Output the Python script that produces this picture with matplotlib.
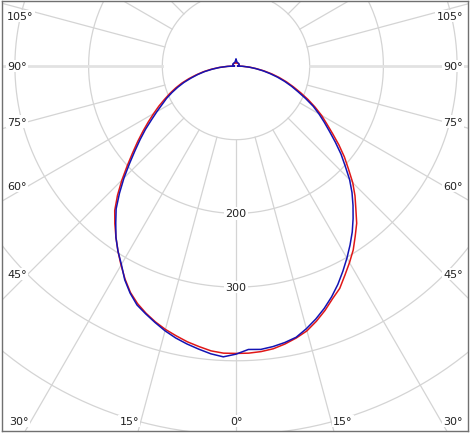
import numpy as np
import matplotlib
matplotlib.use("Agg")
import matplotlib.pyplot as plt

# gamma angles (deg, 0 = straight down), same grid for all four half-planes
gamma = [0, 2.5, 5, 7.5, 10, 12.5, 15, 17.5, 20, 22.5, 25, 27.5, 30, 32.5, 35, 37.5, 40, 42.5,
         45, 47.5, 50, 52.5, 55, 57.5, 60, 62.5, 65, 67.5, 70, 72.5, 75, 77.5, 80, 82.5, 85, 87.5, 90,
         100, 120, 140, 160, 180]
blue_right = [391, 385, 386, 384, 381, 377, 369, 360, 350, 339, 327, 314, 301, 288, 275, 261, 247, 233,
              218, 201, 186, 170, 155, 142, 130, 118, 104, 91, 80, 69, 58, 47, 37, 27, 18, 9, 2,
              4, 5, 5, 5, 9]
blue_left = [391, 395, 392, 387.5, 383, 378, 372, 365, 358, 351, 340, 327, 311, 298, 284, 268, 253, 234,
             215, 196, 179, 164, 150, 136, 124, 113, 104, 94, 84, 74, 63, 53, 43, 32, 22, 11, 2,
             4, 5, 5, 5, 9]
red_right = [390, 390, 389, 387, 383, 378, 372, 363, 353, 342, 333, 320, 308, 296, 282, 269, 253, 239,
             224, 207, 192, 176, 160, 146, 134, 121, 108, 95, 83, 72, 61, 50, 39, 28, 19, 9, 2,
             4, 4.5, 4.5, 4.5, 4.5]
red_left = [390, 390, 388, 384, 380, 375, 370, 364, 357, 349, 339, 326, 312, 298, 284, 270, 256, 238,
            219, 200, 183, 168, 154, 141, 129, 118, 107, 97, 87, 77, 66, 55, 45, 34, 23, 12, 2,
            4, 4.5, 4.5, 4.5, 4.5]

circles = [100, 200, 300, 400, 500, 600]
circle_labels = [200, 300]
side_angles = [105, 90, 75, 60, 45]
bottom_angles = [30, 15, 0]

W, H = 473, 435
S = 0.737          # pixels per cd unit
CX, CY = 236, 67   # pixel position of the centre
GRID = "#d4d4d4"


def px(x):
    return (x - CX) / S


def py(y):
    return -(y - CY) / S


def curve(left, right):
    g = np.radians(np.array(gamma))
    ang = np.concatenate([-g[::-1], g[1:]])
    r = np.concatenate([np.array(left)[::-1], np.array(right)[1:]])
    return r * np.sin(ang), -r * np.cos(ang)


fig = plt.figure(figsize=(W / 100, H / 100), dpi=100)
ax = fig.add_axes([2 / W, 3 / H, 466 / W, 430 / H])
ax.set_xlim(px(2), px(468))
ax.set_ylim(py(432), py(2))
ax.set_xticks([])
ax.set_yticks([])
for sp in ax.spines.values():
    sp.set_color("#707070")
    sp.set_linewidth(1)

t = np.linspace(0, 2 * np.pi, 400)
for c in circles:
    ax.plot(c * np.cos(t), c * np.sin(t), color=GRID, lw=0.9, zorder=1)

for a in range(-180, 181, 15):
    ar = np.radians(a)
    lw, col = (2.0, "#e2e2e2") if abs(a) == 90 else (0.9, GRID)
    ax.plot([100 * np.sin(ar), 900 * np.sin(ar)], [-100 * np.cos(ar), -900 * np.cos(ar)],
            color=col, lw=lw, zorder=1)

font = dict(fontsize=8, color="#222222", zorder=5)
box = dict(facecolor="white", edgecolor="none", pad=1)

for v in circle_labels:
    ax.text(0, -v, str(v), ha="center", va="center", bbox=box, **font)

for a in side_angles:
    ar = np.radians(a)
    for side in (-1, 1):
        xin = px(28) if side < 0 else px(444)
        yy = -np.cos(ar) * abs(xin) / np.sin(ar)
        yy = min(yy, py(17))
        xt = px(7) if side < 0 else px(463)
        ax.text(xt, yy, "%d°" % a, ha="left" if side < 0 else "right", va="center",
                bbox=box, **font)

yb = py(422)
for a in bottom_angles:
    ar = np.radians(a)
    xr = np.tan(ar) * abs(yb)
    if a == 0:
        ax.text(0, yb, "0°", ha="center", va="center", bbox=box, **font)
    else:
        ax.text(-xr - 2 / S, yb, "%d°" % a, ha="right", va="center", bbox=box, **font)
        ax.text(xr + 2 / S, yb, "%d°" % a, ha="left", va="center", bbox=box, **font)

x, y = curve(red_left, red_right)
ax.plot(x, y, color="#e01818", lw=1.1, zorder=3)
x, y = curve(blue_left, blue_right)
ax.plot(x, y, color="#1414b4", lw=1.1, zorder=4)

fig.savefig("out.png", dpi=100)
